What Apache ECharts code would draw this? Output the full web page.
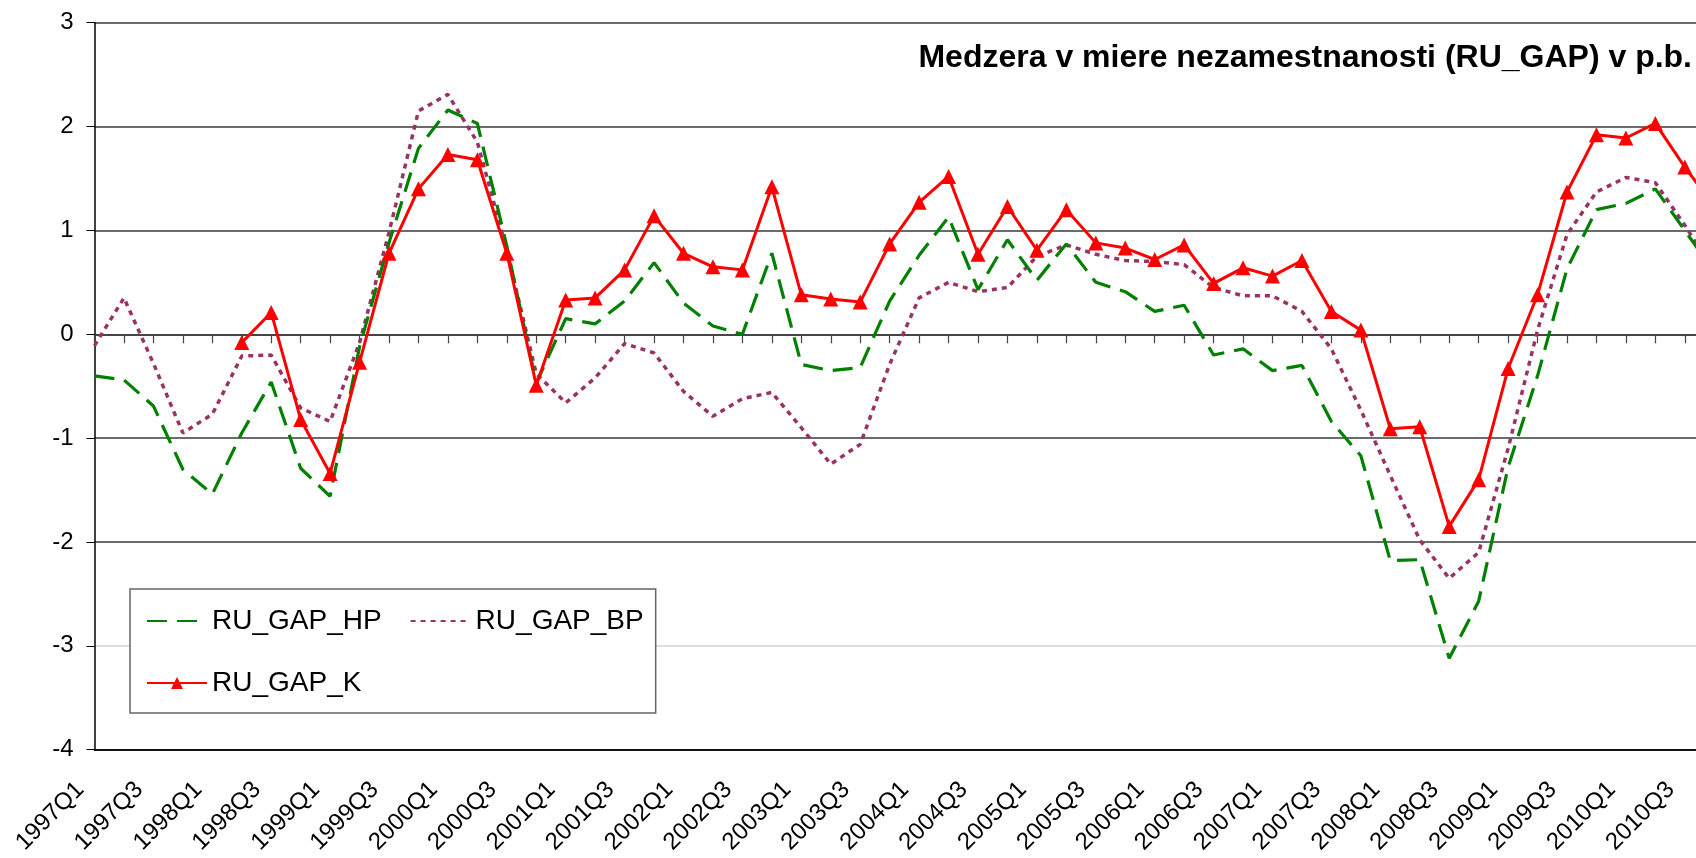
<!DOCTYPE html>
<html>
<head>
<meta charset="utf-8">
<title>RU_GAP</title>
<script src="https://cdn.jsdelivr.net/npm/echarts@6.0.0/dist/echarts.min.js"></script>
<style>
    html, body { margin: 0; padding: 0; background: #fff; }
    #main { width: 1696px; height: 858px; }
</style>
</head>
<body>
<div id="main"></div>
<script>
// kvartaly (posledny 2010Q4 je za okrajom obrazka)
var quarters = [
    '1997Q1','1997Q2','1997Q3','1997Q4','1998Q1','1998Q2','1998Q3','1998Q4',
    '1999Q1','1999Q2','1999Q3','1999Q4','2000Q1','2000Q2','2000Q3','2000Q4',
    '2001Q1','2001Q2','2001Q3','2001Q4','2002Q1','2002Q2','2002Q3','2002Q4',
    '2003Q1','2003Q2','2003Q3','2003Q4','2004Q1','2004Q2','2004Q3','2004Q4',
    '2005Q1','2005Q2','2005Q3','2005Q4','2006Q1','2006Q2','2006Q3','2006Q4',
    '2007Q1','2007Q2','2007Q3','2007Q4','2008Q1','2008Q2','2008Q3','2008Q4',
    '2009Q1','2009Q2','2009Q3','2009Q4','2010Q1','2010Q2','2010Q3','2010Q4'
];

var gapHP = [
    -0.40, -0.44, -0.69, -1.30, -1.54, -0.95, -0.46, -1.29,
    -1.56, -0.12, 0.88, 1.79, 2.16, 2.03, 0.85, -0.47,
    0.15, 0.10, 0.32, 0.69, 0.30, 0.08, 0.00, 0.78,
    -0.29, -0.35, -0.32, 0.32, 0.76, 1.13, 0.43, 0.91,
    0.52, 0.87, 0.50, 0.41, 0.22, 0.28, -0.20, -0.14,
    -0.35, -0.30, -0.84, -1.17, -2.18, -2.17, -3.12, -2.57,
    -1.28, -0.40, 0.63, 1.20, 1.26, 1.40, 1.00, 0.60
];

var gapBP = [
    -0.11, 0.35, -0.28, -0.95, -0.77, -0.21, -0.20, -0.71,
    -0.84, -0.08, 0.98, 2.15, 2.31, 1.85, 0.81, -0.38,
    -0.66, -0.42, -0.09, -0.18, -0.55, -0.79, -0.62, -0.56,
    -0.90, -1.25, -1.06, -0.29, 0.35, 0.50, 0.41, 0.45,
    0.75, 0.86, 0.77, 0.71, 0.70, 0.67, 0.45, 0.37,
    0.37, 0.22, -0.14, -0.73, -1.36, -1.98, -2.35, -2.10,
    -1.10, 0.04, 0.96, 1.37, 1.51, 1.46, 1.05, 0.60
];

var gapK = [
    null, null, null, null, null, -0.08, 0.21, -0.82,
    -1.34, -0.27, 0.78, 1.40, 1.73, 1.68, 0.78, -0.49,
    0.33, 0.35, 0.62, 1.14, 0.78, 0.65, 0.62, 1.42,
    0.38, 0.34, 0.31, 0.87, 1.27, 1.52, 0.77, 1.23,
    0.81, 1.20, 0.88, 0.83, 0.72, 0.86, 0.49, 0.64,
    0.56, 0.71, 0.22, 0.04, -0.91, -0.89, -1.85, -1.40,
    -0.33, 0.38, 1.37, 1.92, 1.89, 2.03, 1.61, 1.23
];

var yTicks = { min: -4, max: 3, step: 1 };

var font = 'Liberation Sans, Arial, sans-serif';

var myChart = echarts.init(document.getElementById('main'));

var option = {
    animation: false,
    backgroundColor: '#fff',
    title: {
        text: 'Medzera v miere nezamestnanosti (RU_GAP) v p.b.',
        right: 4,
        top: 42,
        padding: 0,
        textStyle: { fontFamily: font, fontSize: 32, fontWeight: 'bold', color: '#000' }
    },
    legend: {
        // bez bodky pri ciarach HP a BP
        data: [
            { name: 'RU_GAP_HP', itemStyle: { opacity: 0 } },
            { name: 'RU_GAP_BP', itemStyle: { opacity: 0 } },
            { name: 'RU_GAP_K' }
        ],
        left: 130,
        top: 589,
        width: 500,
        padding: [15, 12, 13, 16],
        itemWidth: 60,
        itemHeight: 15,
        itemGap: 28,
        backgroundColor: '#fff',
        borderColor: '#666',
        borderWidth: 1.5,
        textStyle: { fontFamily: font, fontSize: 28, lineHeight: 34, color: '#000' }
    },
    grid: {
        left: 94.5,
        top: 22.7,
        width: 1619.75,
        height: 727,
        containLabel: false,
        outerBoundsMode: 'none'
    },
    xAxis: [
        {
            // spodna os s popismi
            type: 'category',
            data: quarters,
            boundaryGap: false,
            position: 'bottom',
            axisLine: { onZero: false, lineStyle: { color: '#000', width: 1.5 } },
            axisTick: { show: false },
            axisLabel: {
                interval: 1,
                rotate: 45,
                margin: 22,
                padding: [0, 20, 0, 0],
                fontFamily: font,
                fontSize: 24,
                color: '#000'
            },
            splitLine: { show: false }
        },
        {
            // os na nule s dielikmi
            type: 'category',
            data: quarters,
            boundaryGap: false,
            position: 'top',
            axisLine: { onZero: true, lineStyle: { color: '#3a3a3a', width: 1.5 } },
            axisTick: { show: true, inside: true, interval: 0, length: 9, lineStyle: { color: '#444', width: 1.2 } },
            axisLabel: { show: false },
            splitLine: { show: false }
        }
    ],
    yAxis: {
        type: 'value',
        min: yTicks.min,
        max: yTicks.max,
        interval: yTicks.step,
        axisLine: { show: true, onZero: false, lineStyle: { color: '#000', width: 1.5 } },
        axisTick: { show: true, length: 8, lineStyle: { color: '#000' } },
        axisLabel: { margin: 21, fontFamily: font, fontSize: 24, color: '#000' },
        splitLine: {
            show: true,
            lineStyle: {
                color: ['#000', '#d4d4d4', '#3a3a3a', '#3a3a3a', '#3a3a3a', '#3a3a3a', '#3a3a3a', '#3a3a3a'],
                width: 1.5
            }
        }
    },
    series: [
        {
            name: 'RU_GAP_HP',
            type: 'line',
            xAxisIndex: 0,
            data: gapHP,
            symbol: 'none',
            color: '#008000',
            lineStyle: { color: '#008000', width: 3.2, type: [20, 10] },
            z: 3
        },
        {
            name: 'RU_GAP_BP',
            type: 'line',
            xAxisIndex: 0,
            data: gapBP,
            symbol: 'none',
            color: '#993366',
            lineStyle: { color: '#993366', width: 3.5, type: [5, 5] },
            z: 2
        },
        {
            name: 'RU_GAP_K',
            type: 'line',
            xAxisIndex: 0,
            data: gapK,
            symbol: 'triangle',
            symbolSize: 15,
            showAllSymbol: true,
            color: '#ff0000',
            itemStyle: { color: '#ff0000' },
            lineStyle: { color: '#ff0000', width: 3 },
            z: 4
        }
    ]
};

myChart.setOption(option);
</script>
</body>
</html>
